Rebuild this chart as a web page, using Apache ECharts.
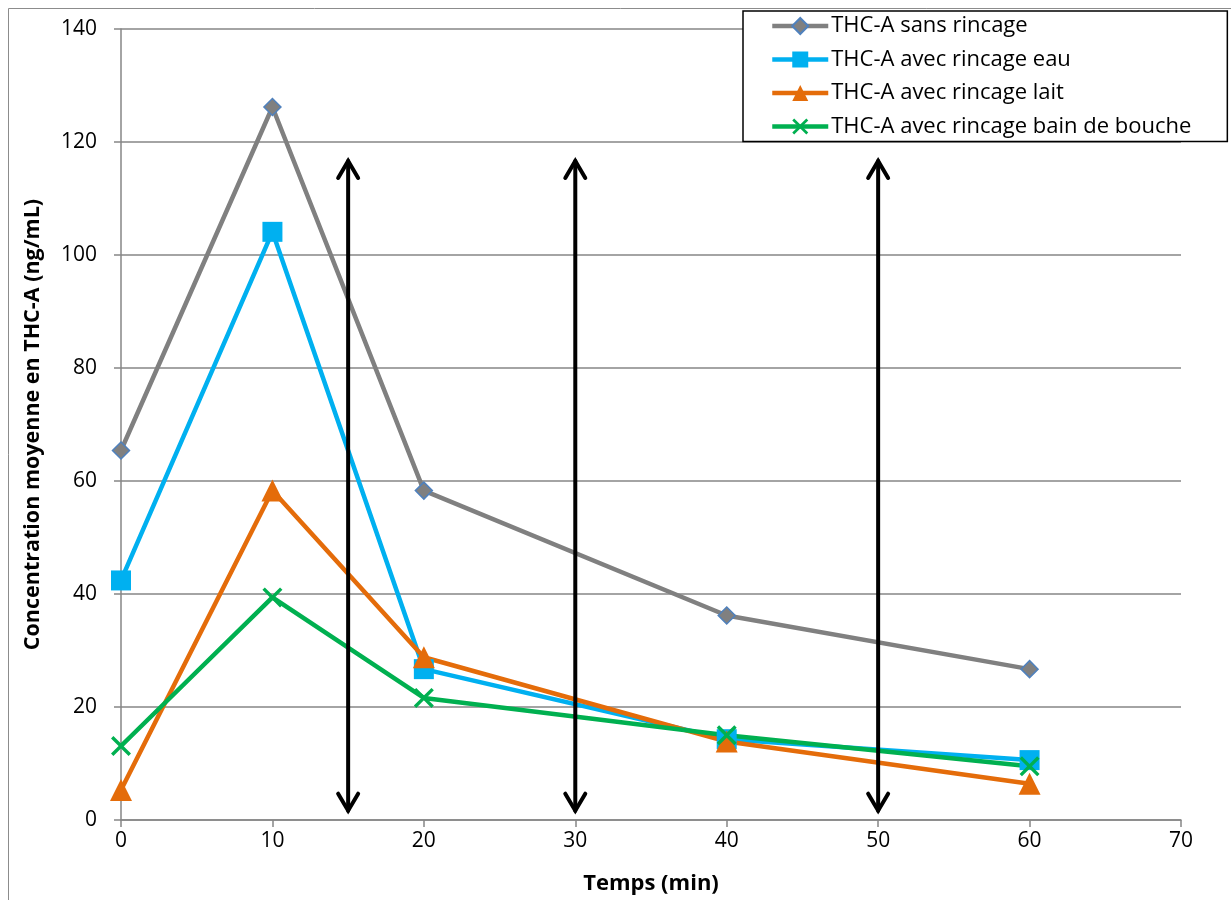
<!DOCTYPE html>
<html><head><meta charset="utf-8">
<script src="https://cdn.jsdelivr.net/npm/echarts@6/dist/echarts.min.js"></script>
<style>html,body{margin:0;padding:0;background:#fff}#c{width:1231px;height:900px}</style>
</head><body><div id="c"></div>
<script>
const times = [0, 10, 20, 40, 60];
const seriesNames = ['THC-A sans rincage','THC-A avec rincage eau','THC-A avec rincage lait','THC-A avec rincage bain de bouche'];
const sansRincage = [65.4, 126.2, 58.3, 36.2, 26.7];
const rincageEau = [42.4, 104.1, 26.7, 14.3, 10.6];
const rincageLait = [5.3, 58.3, 28.8, 13.9, 6.4];
const rincageBain = [13.1, 39.4, 21.6, 15.0, 9.5];
const arrowTimes = [15, 30, 50];
const arrowLow = 1.3;
const arrowHigh = 117;

const font = '"Open Sans", "Liberation Sans", sans-serif';
const pair = v => times.map((t, i) => [t, v[i]]);
const xShape = 'path://M0,1.2 L1.2,0 L5,3.8 L8.8,0 L10,1.2 L6.2,5 L10,8.8 L8.8,10 L5,6.2 L1.2,10 L0,8.8 L3.8,5 Z';

const chart = echarts.init(document.getElementById('c'), null, {renderer: 'canvas'});
function mk(name, data, color, symbol, size, extra) {
  return Object.assign({
    name, type: 'line', data: pair(data), symbol, symbolSize: size,
    lineStyle: {color, width: 4.5}, itemStyle: {color}, animation: false
  }, extra || {});
}
chart.setOption({
  animation: false,
  graphic: [{type: 'rect', shape: {x: 8.5, y: 8.5, width: 1300, height: 1000}, style: {fill: 'none', stroke: '#8c8c8c', lineWidth: 1}}],
  grid: {left: 121, right: 50, top: 29, bottom: 79},
  legend: {
    orient: 'vertical', left: 743, top: 11,
    data: seriesNames,
    backgroundColor: '#fff', borderColor: '#000', borderWidth: 1.5,
    padding: [4, 36, 4, 27], itemGap: 11.5, itemWidth: 56, itemHeight: 20,
    lineStyle: {width: 4.5},
    textStyle: {fontFamily: font, fontSize: 22, lineHeight: 20, color: '#000', padding: [0, 0, 0, -2]}
  },
  xAxis: {
    type: 'value', min: 0, max: 70, interval: 10,
    name: 'Temps (min)', nameLocation: 'middle', nameGap: 53,
    nameTextStyle: {fontFamily: font, fontWeight: 'bold', fontSize: 22, color: '#000'},
    axisLine: {lineStyle: {color: '#868686', width: 1.5}},
    axisTick: {show: true, length: 7, lineStyle: {color: '#868686', width: 1.5}},
    axisLabel: {fontFamily: font, fontSize: 21, color: '#000', margin: 11},
    splitLine: {show: false}
  },
  yAxis: {
    type: 'value', min: 0, max: 140, interval: 20,
    name: 'Concentration moyenne en THC-A (ng/mL)', nameLocation: 'middle', nameGap: 77, nameRotate: 90,
    nameTextStyle: {fontFamily: font, fontWeight: 'bold', fontSize: 21.5, color: '#000'},
    axisLine: {show: true, lineStyle: {color: '#868686', width: 1.5}},
    axisTick: {show: true, length: 7, lineStyle: {color: '#868686', width: 1.5}},
    axisLabel: {fontFamily: font, fontSize: 21, color: '#000', margin: 24},
    splitLine: {lineStyle: {color: '#868686', width: 1.5}}
  },
  series: [
    mk(seriesNames[0], sansRincage, '#808080', 'diamond', 17, {itemStyle: {color: '#808080', borderColor: '#4f81bd', borderWidth: 1.5}}),
    mk(seriesNames[1], rincageEau, '#00b0f0', 'rect', 20),
    mk(seriesNames[2], rincageLait, '#e46c0a', 'triangle', 22),
    mk(seriesNames[3], rincageBain, '#00b050', xShape, 20),
    {
      type: 'custom', name: 'arrows', silent: true, animation: false, z: 10,
      data: arrowTimes.map(t => [t, arrowLow, arrowHigh]),
      renderItem: function (params, api) {
        const x = api.value(0);
        const lo = api.coord([x, api.value(1)]);
        const hi = api.coord([x, api.value(2)]);
        const st = {stroke: '#000', lineWidth: 4, fill: 'none', lineCap: 'round', lineJoin: 'miter'};
        return {type: 'group', children: [
          {type: 'line', shape: {x1: lo[0], y1: lo[1] - 2, x2: hi[0], y2: hi[1] + 2}, style: st},
          {type: 'polyline', shape: {points: [[hi[0] - 10, hi[1] + 19], [hi[0], hi[1] + 2], [hi[0] + 10, hi[1] + 19]]}, style: st},
          {type: 'polyline', shape: {points: [[lo[0] - 10, lo[1] - 19], [lo[0], lo[1] - 2], [lo[0] + 10, lo[1] - 19]]}, style: st}
        ]};
      }
    }
  ]
});
</script></body></html>
